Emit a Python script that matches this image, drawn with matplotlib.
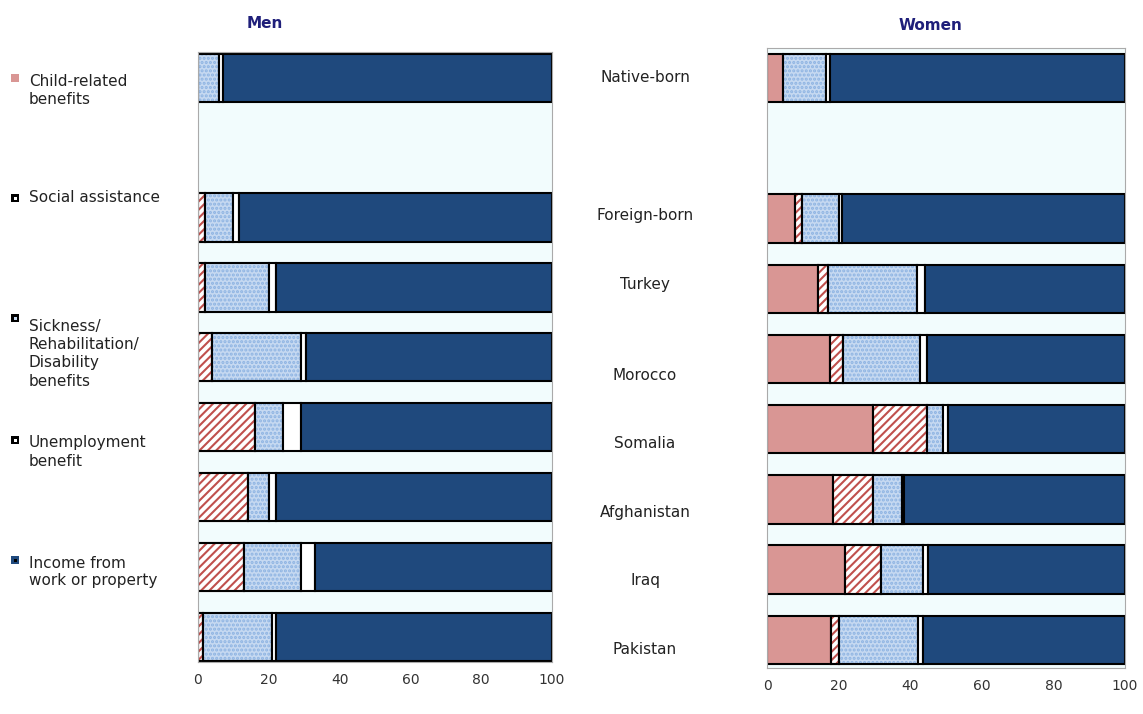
import matplotlib
matplotlib.use("Agg")
import matplotlib.pyplot as plt
import numpy as np
from matplotlib.patches import Rectangle

countries = ["Native-born", "", "Foreign-born", "Turkey", "Morocco", "Somalia", "Afghanistan", "Iraq", "Pakistan"]
series = ["Child-related benefits", "Social assistance", "Sickness/Rehabilitation/Disability benefits",
          "Unemployment benefit", "Income from work or property"]
# Men (blank slot = None)
men_child = [0, None, 0, 0, 0, 0, 0, 0, 0]
men_social = [0, None, 2, 2, 4, 16, 14, 13, 1.5]
men_sick = [6, None, 8, 18, 25, 8, 6, 16, 19.5]
men_unemp = [1, None, 1.5, 2, 1.5, 5, 2, 4, 1]
# Women
women_child = [4.5, None, 7.8, 14.2, 17.6, 29.6, 18.4, 21.8, 18]
women_social = [0, None, 2, 2.8, 3.6, 15.1, 11.2, 10, 2]
women_sick = [12, None, 10.2, 25, 21.5, 4.5, 8.1, 11.8, 22.2]
women_unemp = [1, None, 1, 2, 2, 1.4, 0.5, 1.4, 1.4]

navy = "#1f497d"
child_c = "#d99694"
sick_c = "#c6d9f1"
bg = "#f2fcfd"

fig = plt.figure(figsize=(11.43, 7.14), dpi=100)

def draw(ax, vals, ylim):
    child, social, sick, unemp = vals
    ax.set_facecolor(bg)
    for i in range(len(countries)):
        if child[i] is None:
            continue
        income = 100 - child[i] - social[i] - sick[i] - unemp[i]
        parts = [(child[i], dict(color=child_c)),
                 (social[i], dict(color="white", hatch="////")),
                 (sick[i], dict(color=sick_c, hatch="....")),
                 (unemp[i], dict(color="white")),
                 (income, dict(color=navy))]
        left = 0
        for w, st in parts:
            if w > 0:
                b = ax.barh(i, w, left=left, height=0.69, edgecolor="black", linewidth=1.5, **st)
                if "hatch" in st:
                    for p in b:
                        p.set_edgecolor("#c0504d" if st["hatch"] == "////" else "#8db3e2")
                    ax.barh(i, w, left=left, height=0.69, fill=False, edgecolor="black", linewidth=1.5)
            left += w
    ax.set_xlim(0, 100)
    ax.set_ylim(*ylim)
    ax.set_yticks([])
    ax.set_xticks([0, 20, 40, 60, 80, 100])
    ax.tick_params(axis="x", length=0, labelsize=10, colors="#333333", pad=8)
    for s in ax.spines.values():
        s.set_color("#aaaaaa")

plt.rcParams["hatch.linewidth"] = 1.5
ax1 = fig.add_axes([198/1143, 52/714*0 + (714-662)/714, 354/1143, 610/714])
draw(ax1, (men_child, men_social, men_sick, men_unemp), (8.36, -0.37))
ax2 = fig.add_axes([767/1143, (714-668)/714, 358/1143, 620/714])
draw(ax2, (women_child, women_social, women_sick, women_unemp), (8.4, -0.43))

fig.text(265/1143, 1-24/714, "Men", ha="center", va="center", color="#1f1f7a", fontweight="bold", fontsize=11)
fig.text(930/1143, 1-26/714, "Women", ha="center", va="center", color="#1f1f7a", fontweight="bold", fontsize=11)

label_y = [78, None, 215, 285, 375, 443, 513, 580, 650]
for c, y in zip(countries, label_y):
    if y:
        fig.text(645/1143, 1-y/714, c, ha="center", va="center", fontsize=11, color="#222222")

leg = [("Child-related\nbenefits", 78, 90, child_c, None),
       ("Social assistance", 198, 198, "black", "white"),
       ("Sickness/\nRehabilitation/\nDisability\nbenefits", 318, 354, "black", sick_c),
       ("Unemployment\nbenefit", 440, 452, "black", "white"),
       ("Income from\nwork or property", 560, 572, navy, "black")]
for text, ysq, ytx, c1, c2 in leg:
    fig.patches.append(Rectangle((11/1143, 1-(ysq+4)/714), 8/1143, 8/714, transform=fig.transFigure,
                                 facecolor=c1, edgecolor="none"))
    if c2:
        fig.patches.append(Rectangle((13.5/1143, 1-(ysq+1.5)/714), 3/1143, 3/714, transform=fig.transFigure,
                                     facecolor=c2, edgecolor="none"))
    fig.text(29/1143, 1-ytx/714, text, ha="left", va="center", fontsize=11, color="#222222", linespacing=1.25)

fig.savefig("out.png", dpi=100)
